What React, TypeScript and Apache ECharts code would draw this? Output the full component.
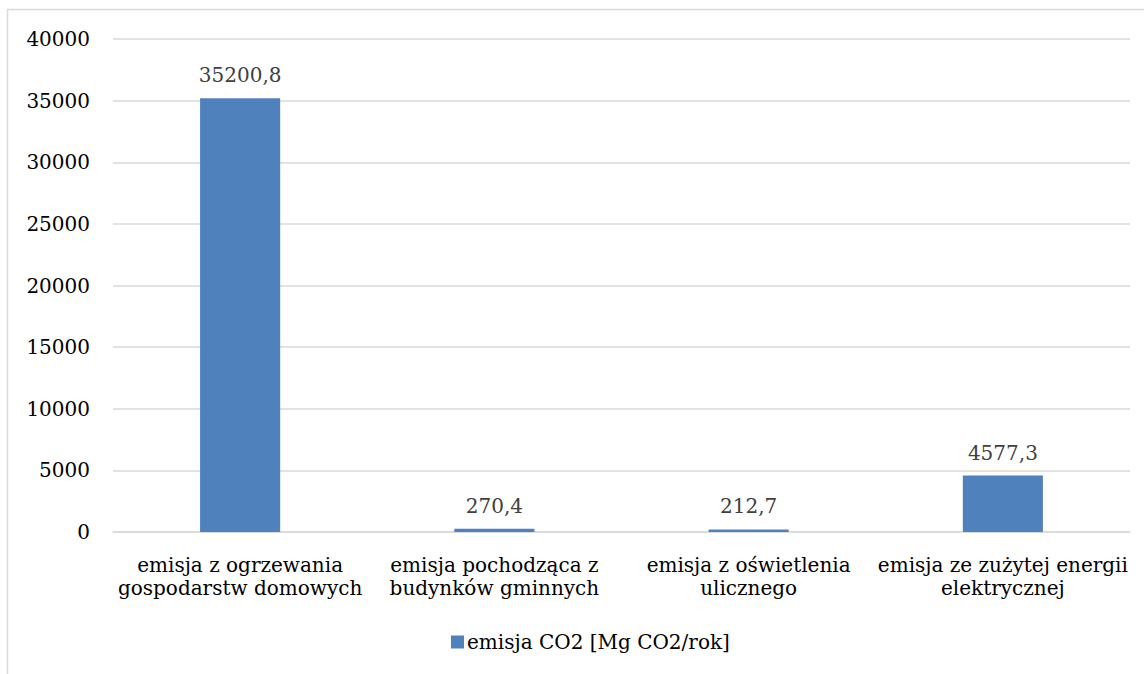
import React, { useEffect, useRef } from "react";
import * as echarts from "echarts";

const categories = [
  "emisja z ogrzewania\ngospodarstw domowych",
  "emisja pochodząca z\nbudynków gminnych",
  "emisja z oświetlenia\nulicznego",
  "emisja ze zużytej energii\nelektrycznej",
];
const seriesName = "emisja CO2 [Mg CO2/rok]";
const values = [35200.8, 270.4, 212.7, 4577.3];

const FONT = "DejaVu Serif";

export default function App() {
  const ref = useRef<HTMLDivElement>(null);
  useEffect(() => {
    if (!ref.current) return;
    const chart = echarts.init(ref.current, undefined, { renderer: "svg" });
    chart.setOption({
      animation: false,
      backgroundColor: "#ffffff",
      textStyle: { fontFamily: FONT },
      graphic: [
        {
          type: "rect",
          shape: { x: 7.5, y: 9.5, width: 1300, height: 900 },
          style: { fill: "none", stroke: "#d9d9d9", lineWidth: 1.5 },
          silent: true,
          z: -1,
        },
      ],
      grid: { left: 113, right: 14, top: 39, bottom: 142, containLabel: false },
      legend: {
        left: 446,
        top: 627,
        itemWidth: 13,
        itemHeight: 13,
        itemGap: 5,
        icon: "rect",
        textStyle: { fontFamily: FONT, fontSize: 20, color: "#000000", padding: [0, 0, 0, -2] },
        data: [seriesName],
      },
      xAxis: {
        type: "category",
        data: categories,
        axisLine: { show: true, lineStyle: { color: "#d9d9d9", width: 1.5 } },
        axisTick: { show: false },
        axisLabel: {
          fontFamily: FONT,
          fontSize: 20,
          color: "#000000",
          lineHeight: 23,
          margin: 21,
          interval: 0,
        },
      },
      yAxis: {
        type: "value",
        min: 0,
        max: 40000,
        interval: 5000,
        axisLine: { show: false },
        axisTick: { show: false },
        splitLine: { lineStyle: { color: "#d9d9d9", width: 1.5 } },
        axisLabel: {
          fontFamily: FONT,
          fontSize: 20,
          color: "#000000",
          margin: 23,
          formatter: (v: number) => String(v),
        },
      },
      series: [
        {
          name: seriesName,
          type: "bar",
          data: values,
          barWidth: "31.5%",
          itemStyle: { color: "#4f81bd" },
          label: {
            show: true,
            position: "top",
            distance: 13,
            fontFamily: FONT,
            fontSize: 20,
            color: "#404040",
            formatter: (p: any) => String(p.value).replace(".", ","),
          },
        },
      ],
    });
    return () => chart.dispose();
  }, []);
  return (
    <div
      ref={ref}
      style={{ position: "fixed", left: 0, top: 0, width: 1144, height: 674 }}
    />
  );
}
